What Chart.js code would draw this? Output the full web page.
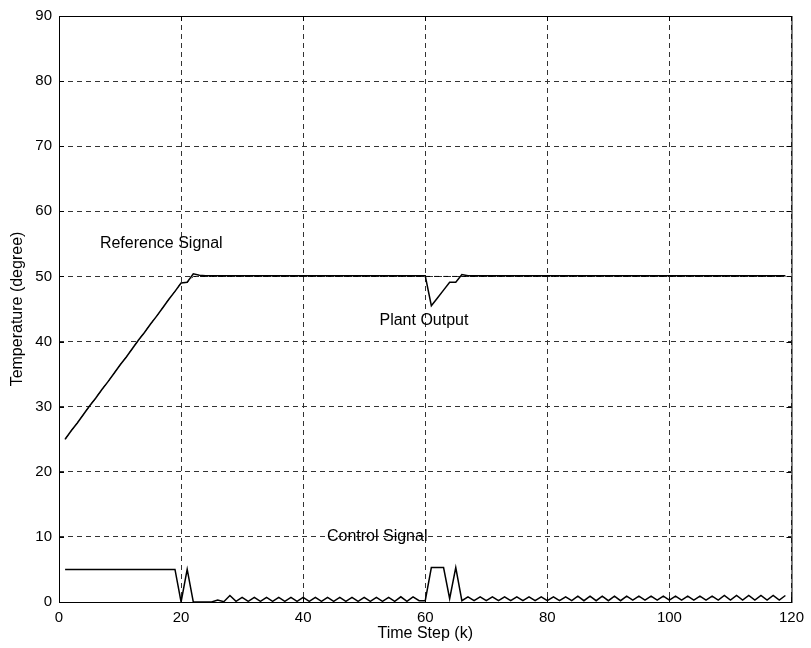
<!DOCTYPE html>
<html>
<head>
<meta charset="utf-8">
<title>Temperature control</title>
<script src="https://cdn.jsdelivr.net/npm/chart.js@4.4.1/dist/chart.umd.min.js"></script>
<style>
  html, body { margin: 0; padding: 0; background: #fff; }
  canvas { display: block; }
</style>
</head>
<body>
<canvas id="chart" width="811" height="648"></canvas>
<script>
const FONT = 'Arial, "Liberation Sans", Helvetica, sans-serif';

// time steps k = 1 .. 119
const timeSteps = Array.from({ length: 119 }, (_, i) => i + 1);

const referenceSignal = [
  25.0, 26.3, 27.5, 28.8, 30.1, 31.3, 32.6, 33.8, 35.1, 36.4,
  37.6, 38.9, 40.2, 41.4, 42.7, 43.9, 45.2, 46.5, 47.7, 49.0,
  49.1, 50.0, 50.0, 50.0, 50.0, 50.0, 50.0, 50.0, 50.0, 50.0,
  50.0, 50.0, 50.0, 50.0, 50.0, 50.0, 50.0, 50.0, 50.0, 50.0,
  50.0, 50.0, 50.0, 50.0, 50.0, 50.0, 50.0, 50.0, 50.0, 50.0,
  50.0, 50.0, 50.0, 50.0, 50.0, 50.0, 50.0, 50.0, 50.0, 50.0,
  50.0, 50.0, 50.0, 50.0, 50.0, 50.0, 50.0, 50.0, 50.0, 50.0,
  50.0, 50.0, 50.0, 50.0, 50.0, 50.0, 50.0, 50.0, 50.0, 50.0,
  50.0, 50.0, 50.0, 50.0, 50.0, 50.0, 50.0, 50.0, 50.0, 50.0,
  50.0, 50.0, 50.0, 50.0, 50.0, 50.0, 50.0, 50.0, 50.0, 50.0,
  50.0, 50.0, 50.0, 50.0, 50.0, 50.0, 50.0, 50.0, 50.0, 50.0,
  50.0, 50.0, 50.0, 50.0, 50.0, 50.0, 50.0, 50.0, 50.0
];

const plantOutput = [
  25.0, 26.3, 27.5, 28.8, 30.1, 31.3, 32.6, 33.8, 35.1, 36.4,
  37.6, 38.9, 40.2, 41.4, 42.7, 43.9, 45.2, 46.5, 47.7, 49.0,
  49.1, 50.4, 50.2, 50.1, 50.1, 50.1, 50.1, 50.1, 50.1, 50.1,
  50.1, 50.1, 50.1, 50.1, 50.1, 50.1, 50.1, 50.1, 50.1, 50.1,
  50.1, 50.1, 50.1, 50.1, 50.1, 50.1, 50.1, 50.1, 50.1, 50.1,
  50.1, 50.1, 50.1, 50.1, 50.1, 50.1, 50.1, 50.1, 50.1, 50.1,
  45.5, 46.7, 47.9, 49.1, 49.1, 50.3, 50.1, 50.1, 50.1, 50.1,
  50.1, 50.1, 50.1, 50.1, 50.1, 50.1, 50.1, 50.1, 50.1, 50.1,
  50.1, 50.1, 50.1, 50.1, 50.1, 50.1, 50.1, 50.1, 50.1, 50.1,
  50.1, 50.1, 50.1, 50.1, 50.1, 50.1, 50.1, 50.1, 50.1, 50.1,
  50.1, 50.1, 50.1, 50.1, 50.1, 50.1, 50.1, 50.1, 50.1, 50.1,
  50.1, 50.1, 50.1, 50.1, 50.1, 50.1, 50.1, 50.1, 50.1
];

const controlSignal = [
  5.0, 5.0, 5.0, 5.0, 5.0, 5.0, 5.0, 5.0, 5.0, 5.0,
  5.0, 5.0, 5.0, 5.0, 5.0, 5.0, 5.0, 5.0, 5.0, 0.0,
  5.0, 0.0, 0.0, 0.0, 0.0, 0.3, 0.05, 1.0, 0.1, 0.7,
  0.1, 0.7, 0.1, 0.7, 0.1, 0.7, 0.1, 0.7, 0.1, 0.7,
  0.1, 0.7, 0.1, 0.7, 0.1, 0.7, 0.1, 0.7, 0.1, 0.7,
  0.1, 0.7, 0.1, 0.7, 0.1, 0.8, 0.1, 0.8, 0.2, 0.2,
  5.3, 5.3, 5.3, 0.5, 5.3, 0.2, 0.8, 0.2, 0.8, 0.2,
  0.8, 0.2, 0.8, 0.2, 0.8, 0.2, 0.8, 0.2, 0.8, 0.2,
  0.8, 0.2, 0.8, 0.2, 0.9, 0.2, 0.9, 0.2, 0.9, 0.2,
  0.9, 0.2, 0.9, 0.3, 0.9, 0.3, 0.9, 0.3, 0.9, 0.3,
  0.9, 0.3, 0.9, 0.3, 0.9, 0.3, 0.9, 0.3, 1.0, 0.3,
  1.0, 0.3, 1.0, 0.3, 1.0, 0.3, 1.0, 0.3, 1.0
];

// curve captions, placed in data coordinates (left edge, vertical middle)
const captions = [
  { text: 'Reference Signal', k: 6.7, value: 55.0 },
  { text: 'Plant Output', k: 52.5, value: 43.2 },
  { text: 'Control Signal', k: 43.9, value: 10.0 }
];

const toPoints = (values) => values.map((v, i) => ({ x: timeSteps[i], y: v }));

function lineSet(label, values, dash = []) {
  return {
    label,
    data: toPoints(values),
    borderColor: '#000',
    borderWidth: dash.length ? 1 : 1.5,
    borderDash: dash,
    pointRadius: 0,
    tension: 0,
    fill: false,
  };
}

// solid frame round the plot with short inward ticks, MATLAB style
const frame = {
  id: 'frame',
  afterDatasetsDraw(chart) {
    const { ctx, chartArea: a, scales } = chart;
    ctx.save();
    ctx.strokeStyle = '#000';
    ctx.lineWidth = 1;
    ctx.setLineDash([]);
    ctx.strokeRect(a.left + 0.5, a.top + 0.5, a.right - a.left, a.bottom - a.top);
    ctx.beginPath();
    scales.x.ticks.forEach((t) => {
      const px = Math.round(scales.x.getPixelForValue(t.value)) + 0.5;
      ctx.moveTo(px, a.bottom); ctx.lineTo(px, a.bottom - 5);
      ctx.moveTo(px, a.top); ctx.lineTo(px, a.top + 5);
    });
    scales.y.ticks.forEach((t) => {
      const py = Math.round(scales.y.getPixelForValue(t.value)) + 0.5;
      ctx.moveTo(a.left, py); ctx.lineTo(a.left + 5, py);
      ctx.moveTo(a.right, py); ctx.lineTo(a.right - 5, py);
    });
    ctx.stroke();

    ctx.fillStyle = '#000';
    ctx.font = '16px ' + FONT;
    ctx.textBaseline = 'middle';
    ctx.textAlign = 'left';
    captions.forEach((c) => {
      ctx.fillText(c.text, scales.x.getPixelForValue(c.k), scales.y.getPixelForValue(c.value));
    });
    ctx.restore();
  },
};

const gridOpts = { color: '#333', lineWidth: 1, drawTicks: false };

new Chart(document.getElementById('chart'), {
  type: 'line',
  data: {
    datasets: [
      lineSet('Reference Signal', referenceSignal, [5, 4]),
      lineSet('Plant Output', plantOutput),
      lineSet('Control Signal', controlSignal),
    ],
  },
  options: {
    responsive: false,
    animation: false,
    devicePixelRatio: 1,
    layout: { padding: { top: 16, right: 14, left: 0, bottom: 0 } },
    plugins: {
      legend: { display: false },
      tooltip: { enabled: false },
    },
    scales: {
      x: {
        type: 'linear',
        min: 0,
        max: 120,
        afterFit: (scale) => { scale.height = 46; },
        ticks: { stepSize: 20, color: '#000', padding: 7, font: { family: FONT, size: 15 } },
        grid: gridOpts,
        border: { display: false, dash: [5, 4] },
        title: {
          display: true,
          text: 'Time Step (k)',
          color: '#000',
          font: { family: FONT, size: 16 },
          padding: { top: 0, bottom: 5 },
        },
      },
      y: {
        min: 0,
        max: 90,
        afterFit: (scale) => { scale.width = 59; },
        ticks: { stepSize: 10, color: '#000', padding: 7, font: { family: FONT, size: 15 } },
        grid: gridOpts,
        border: { display: false, dash: [5, 4] },
        title: {
          display: true,
          text: 'Temperature (degree)',
          color: '#000',
          font: { family: FONT, size: 16 },
          padding: { top: 8, bottom: 0 },
        },
      },
    },
  },
  plugins: [frame],
});
</script>
</body>
</html>
